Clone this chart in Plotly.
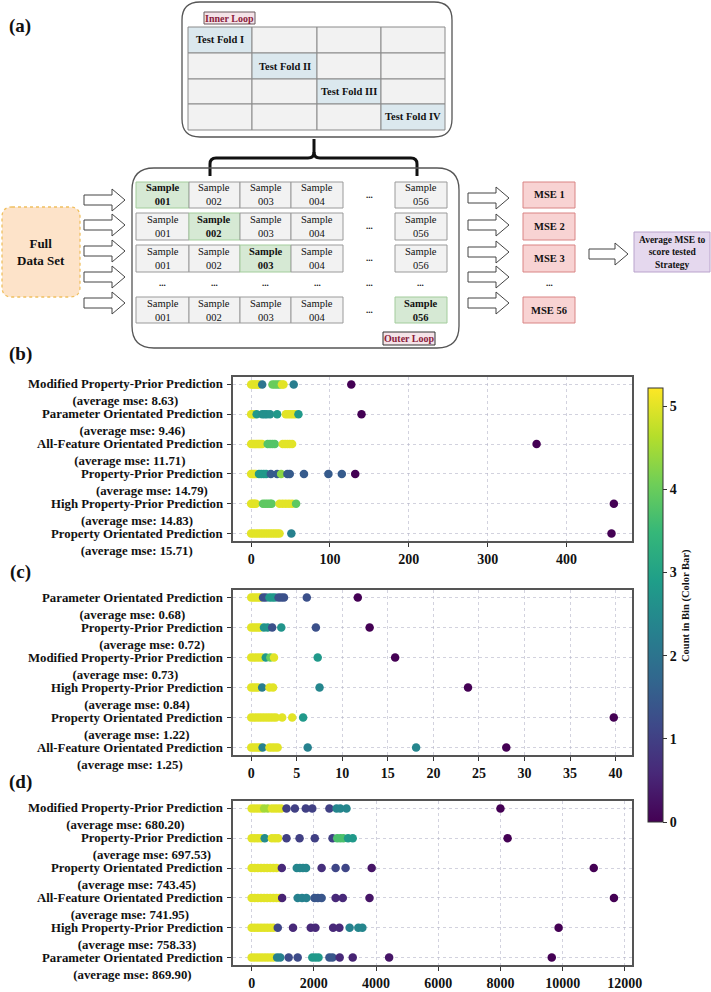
import plotly.graph_objects as go

W, H = 711, 992
FONT = "Liberation Serif, Times New Roman, serif"

# ---------------- data ----------------
names_b = ["Modified Property-Prior Prediction", "Parameter Orientated Prediction",
           "All-Feature Orientated Prediction", "Property-Prior Prediction",
           "High Property-Prior Prediction", "Property Orientated Prediction"]
mse_b = ["8.63", "9.46", "11.71", "14.79", "14.83", "15.71"]
b_x = [
    [0, 2, 4, 6, 8, 10, 14, 27, 30, 33, 36, 39, 41, 54, 127],
    [0, 2, 4, 7, 14, 17, 20, 24, 33, 44, 47, 50, 53, 56, 60, 140],
    [0, 2, 4, 6, 8, 10, 12, 14, 21, 24, 27, 30, 40, 43, 46, 49, 52, 362],
    [0, 2, 4, 6, 10, 13, 16, 19, 25, 33, 38, 46, 49, 67, 98, 115, 132],
    [0, 2, 4, 6, 15, 18, 21, 24, 26, 36, 40, 44, 48, 52, 57, 460],
    [0, 3, 6, 9, 12, 15, 18, 21, 24, 27, 30, 33, 36, 51, 457],
]
b_c = [
    [5, 5, 5, 5, 5, 5, 2, 4, 4, 4, 4, 5, 5, 2.2, 0],
    [5, 5, 5, 2.8, 2.6, 2.6, 2.6, 2.6, 2.8, 5, 5, 5, 5, 5, 2.8, 0],
    [5, 5, 5, 5, 5, 5, 5, 5, 3.8, 3.8, 3.8, 3.8, 5, 5, 5, 5, 5, 0],
    [5, 5, 5, 5, 2.8, 2.8, 2.8, 2.8, 1.5, 1.5, 4.3, 1.5, 1.5, 1.5, 1.5, 1.5, 0],
    [5, 5, 5, 5, 3.9, 3.9, 3.9, 3.9, 3.9, 5, 5, 5, 5, 5, 3.9, 0],
    [5, 5, 5, 5, 5, 5, 5, 5, 5, 5, 5, 5, 5, 2.3, 0],
]

names_c = ["Parameter Orientated Prediction", "Property-Prior Prediction",
           "Modified Property-Prior Prediction", "High Property-Prior Prediction",
           "Property Orientated Prediction", "All-Feature Orientated Prediction"]
mse_c = ["0.68", "0.72", "0.73", "0.84", "1.22", "1.25"]
c_x = [
    [0, 0.25, 0.5, 0.75, 1.0, 1.3, 1.6, 2.0, 2.3, 2.6, 3.0, 3.3, 3.6, 6.1, 11.7],
    [0, 0.25, 0.5, 0.75, 1.0, 1.4, 1.8, 2.3, 3.3, 7.1, 13.0],
    [0, 0.3, 0.6, 0.9, 1.2, 1.6, 2.1, 2.5, 7.3, 15.8],
    [0, 0.25, 0.5, 0.75, 1.2, 2.0, 2.4, 7.5, 23.8],
    [0, 0.3, 0.6, 0.9, 1.2, 1.5, 1.8, 2.1, 2.4, 2.7, 3.4, 4.5, 5.7, 39.8],
    [0, 0.25, 0.5, 0.75, 1.0, 1.25, 2.0, 2.3, 2.6, 2.9, 6.2, 18.1, 28.0],
]
c_c = [
    [5, 5, 5, 5, 5, 1.3, 1.3, 2.8, 2.8, 2.8, 1.3, 1.3, 1.3, 1.3, 0],
    [5, 5, 5, 5, 5, 2.7, 2.7, 1.3, 2.7, 1.3, 0],
    [5, 5, 5, 5, 5, 2.8, 4, 5, 2.8, 0],
    [5, 5, 5, 5, 2.2, 5, 5, 2.4, 0],
    [5, 5, 5, 5, 5, 5, 5, 5, 5, 5, 5, 5, 2.8, 0],
    [5, 5, 5, 5, 5, 2.3, 5, 5, 5, 5, 2.3, 2.4, 0],
]

names_d = ["Modified Property-Prior Prediction", "Property-Prior Prediction",
           "Property Orientated Prediction", "All-Feature Orientated Prediction",
           "High Property-Prior Prediction", "Parameter Orientated Prediction"]
mse_d = ["680.20", "697.53", "743.45", "741.95", "758.33", "869.90"]
d_x = [
    [0, 100, 200, 300, 400, 520, 650, 750, 850, 950, 1120, 1390, 1740, 1950, 2500, 2730, 2850, 3050, 8000],
    [0, 100, 200, 300, 420, 650, 750, 850, 1120, 1540, 2030, 2600, 2750, 2850, 2950, 3100, 3250, 8230],
    [0, 100, 200, 300, 400, 500, 600, 700, 800, 970, 1450, 1550, 1650, 1750, 2250, 2700, 3020, 3860, 11000],
    [0, 100, 200, 300, 400, 500, 600, 700, 800, 900, 980, 1480, 1620, 1760, 2020, 2130, 2250, 2700, 2930, 3790, 11650],
    [0, 100, 200, 300, 400, 500, 600, 700, 840, 1330, 1900, 2050, 2620, 2820, 3150, 3430, 3560, 9870],
    [0, 100, 200, 300, 400, 500, 600, 700, 820, 920, 1190, 1480, 1950, 2050, 2150, 2500, 2600, 2830, 3250, 4420, 9650],
]
d_c = [
    [5, 5, 5, 5, 4.5, 4.5, 5, 5, 5, 5, 1, 1, 1, 1, 1, 2.4, 2.4, 2.4, 0],
    [5, 5, 5, 5, 2.5, 5, 5, 5, 1, 1, 1, 1, 3.7, 3.7, 3.7, 2.8, 2.8, 0],
    [5, 5, 5, 5, 5, 5, 5, 5, 5, 0.6, 2.4, 2.4, 2.4, 2.4, 0.7, 1.1, 1.1, 0.3, 0],
    [5, 5, 5, 5, 5, 5, 5, 5, 5, 5, 0.5, 2.3, 2.3, 2.3, 1.4, 1.4, 1.4, 0.6, 0.6, 0.3, 0],
    [5, 5, 5, 5, 5, 5, 5, 5, 1.1, 0.6, 0.6, 0.6, 0.6, 0.6, 2.3, 2.4, 2.4, 0],
    [5, 5, 5, 5, 5, 5, 5, 5, 2.3, 2.3, 1.2, 1.2, 2.8, 2.8, 2.8, 1.4, 1.4, 0.6, 0.5, 0.3, 0],
]

x_ranges = [[-23, 483], [-2.0, 41.8], [-600, 12230]]
x_dticks = [100, 5, 2000]
cbar_ticks = [0, 1, 2, 3, 4, 5]
cbar_title = "Count in Bin (Color Bar)"

# diagram text
fold_labels = ["Test Fold I", "Test Fold II", "Test Fold III", "Test Fold IV"]
sample_ids = ["001", "002", "003", "004", "056"]
mse_labels = ["MSE 1", "MSE 2", "MSE 3", "MSE 56"]

# ---------------- helpers (pixel -> paper) ----------------
def X(px):
    return px / W

def Y(py):
    return 1 - py / H

shapes = []
annos = []

def rrect(x0, y0, x1, y1, r, fill, line, lw=1.2, dash="solid"):
    p = (f"M {X(x0+r)},{Y(y0)} L {X(x1-r)},{Y(y0)} Q {X(x1)},{Y(y0)} {X(x1)},{Y(y0+r)} "
         f"L {X(x1)},{Y(y1-r)} Q {X(x1)},{Y(y1)} {X(x1-r)},{Y(y1)} "
         f"L {X(x0+r)},{Y(y1)} Q {X(x0)},{Y(y1)} {X(x0)},{Y(y1-r)} "
         f"L {X(x0)},{Y(y0+r)} Q {X(x0)},{Y(y0)} {X(x0+r)},{Y(y0)} Z")
    shapes.append(dict(type="path", path=p, xref="paper", yref="paper",
                       fillcolor=fill, line=dict(color=line, width=lw, dash=dash)))

def rect(x0, y0, x1, y1, fill, line, lw=1):
    shapes.append(dict(type="rect", xref="paper", yref="paper", x0=X(x0), x1=X(x1),
                       y0=Y(y1), y1=Y(y0), fillcolor=fill, line=dict(color=line, width=lw)))

def text(x, y, t, size=10.5, bold=True, color="#111111", xanchor="center", angle=0):
    annos.append(dict(x=X(x), y=Y(y), xref="paper", yref="paper", text=t, showarrow=False,
                      xanchor=xanchor, yanchor="middle", align="center", textangle=angle,
                      font=dict(family=FONT, size=size, color=color,
                                weight="bold" if bold else "normal")))

def arrow(x0, x1, yc, h1=5, h2=11, head=13):
    xh = x1 - head
    pts = [(x0, yc-h1), (xh, yc-h1), (xh, yc-h2), (x1, yc), (xh, yc+h2), (xh, yc+h1), (x0, yc+h1)]
    p = "M " + " L ".join(f"{X(a)},{Y(b)}" for a, b in pts) + " Z"
    shapes.append(dict(type="path", path=p, xref="paper", yref="paper",
                       fillcolor="white", line=dict(color="#444444", width=1)))

# ---------------- panel (a) diagram ----------------
# inner loop
rrect(182, 2, 452, 137, 18, "white", "#555555", 1.3)
col_edges = [188, 252, 317, 381, 445]
row_edges = [27, 53, 79, 104, 130]
for r in range(4):
    for c in range(4):
        diag = (r == c)
        rect(col_edges[c], row_edges[r], col_edges[c+1], row_edges[r+1],
             "#dbe8ee" if diag else "#f2f2f2", "#8a8a8a", 1)
for i, lab in enumerate(fold_labels):
    text((col_edges[i]+col_edges[i+1])/2, (row_edges[i]+row_edges[i+1])/2, lab, size=10.5)
rect(204, 12, 255, 24, "#f5e3e8", "#6b5a5e", 1)
text(229.5, 18, "Inner Loop", size=10, color="#8b1c3c")

# brace
shapes.append(dict(type="path", xref="paper", yref="paper", line=dict(color="#111111", width=3),
                   path=f"M {X(210)},{Y(176)} L {X(210)},{Y(164)} Q {X(210)},{Y(158)} {X(216)},{Y(158)} "
                        f"L {X(308)},{Y(158)} Q {X(314)},{Y(158)} {X(314)},{Y(152)} L {X(314)},{Y(139)}"))
shapes.append(dict(type="path", xref="paper", yref="paper", line=dict(color="#111111", width=3),
                   path=f"M {X(314)},{Y(152)} Q {X(314)},{Y(158)} {X(320)},{Y(158)} "
                        f"L {X(411)},{Y(158)} Q {X(417)},{Y(158)} {X(417)},{Y(164)} L {X(417)},{Y(176)}"))

# outer loop box
rrect(132, 168, 459, 348, 22, "rgba(255,255,255,0)", "#555555", 1.3)

cell_x = [(136, 189), (189, 240), (240, 291), (291, 343), (395, 447)]
rows_y = [(182, 208), (213, 240), (245, 272), None, (297, 323)]
highlight = [0, 1, 2, None, 4]
dots_y = 283
for ri, ry in enumerate(rows_y):
    if ry is None:
        for (a, b) in cell_x[:4]:
            text((a+b)/2, dots_y, "...", size=9)
        text(369, dots_y, "...", size=9)
        text(421, dots_y, "...", size=9)
        continue
    for ci, (a, b) in enumerate(cell_x):
        hl = highlight[ri] == ci
        rect(a, ry[0], b, ry[1], "#d6e9d4" if hl else "#f2f2f2",
             "#a3cc9c" if hl else "#9a9a9a", 1)
        text((a+b)/2, (ry[0]+ry[1])/2, f"Sample<br>{sample_ids[ci]}", size=10.5, bold=hl)
    text(369, (ry[0]+ry[1])/2, "...", size=9)

rect(383, 332, 435, 345, "#f5e3e8", "#333333", 1)
text(409, 338.5, "Outer Loop", size=10, color="#8b1c3c")

# full data set
rrect(2, 207, 80, 297, 10, "#fde3c9", "#f0c060", 1.3, "dot")
text(41, 252, "Full<br>Data Set", size=13)

# arrows
for yc in [200, 225, 251, 277, 303]:
    arrow(84, 125, yc)
for yc in [198, 225, 252, 277, 303]:
    arrow(468, 509, yc)
arrow(589, 628, 254)

# MSE boxes
mse_y = [(182, 208), (213, 240), (245, 272), (297, 323)]
for lab, (a, b) in zip(mse_labels, mse_y):
    rect(523, a, 575, b, "#f8d3d3", "#d98484", 1)
    text(549, (a+b)/2, lab, size=10.5)
text(549, dots_y, "...", size=9)

rect(634, 232, 710, 272, "#e5d8ee", "#b9a3cc", 1)
text(672, 252, "Average MSE to<br>score tested<br>Strategy", size=9.5)

# panel letters
for lab, yy in [("(a)", 26), ("(b)", 354), ("(c)", 572), ("(d)", 782)]:
    text(20, yy, lab, size=19)

# colour bar title (vertical, beside the tick labels)
text(686, 606, cbar_title, size=10.5, angle=-90)

# ---------------- scatter panels ----------------
fig = go.Figure()
panels = [(names_b, mse_b, b_x, b_c), (names_c, mse_c, c_x, c_c), (names_d, mse_d, d_x, d_c)]
ydoms = [(377, 541), (590, 755), (801, 965)]
axis_ids = ["", "2", "3"]

for pi, (names, mses, xs, cs) in enumerate(panels):
    ax = axis_ids[pi]
    for name, rx, rc in zip(names, xs, cs):
        fig.add_trace(go.Scatter(
            x=rx, y=[name] * len(rx), mode="markers", showlegend=False,
            xaxis="x" + ax, yaxis="y" + ax,
            marker=dict(size=8.5, color=rc, coloraxis="coloraxis", line=dict(width=0)),
        ))
    for name, m in zip(names, mses):
        annos.append(dict(x=0, y=name, xref=f"x{ax} domain", yref="y" + ax,
                          text=f"{name}<br>(average mse: {m})", showarrow=False,
                          xanchor="right", yanchor="middle", align="center",
                          xshift=-8, yshift=-8.5,
                          font=dict(family=FONT, size=12.8, color="#111111", weight="bold")))

grid_col = "rgba(180,180,200,0.6)"
layout_axes = {}
for pi, ax in enumerate(axis_ids):
    y0, y1 = ydoms[pi]
    layout_axes["xaxis" + ax] = dict(
        domain=[X(233), X(632)], anchor="y" + ax, range=x_ranges[pi], dtick=x_dticks[pi], tick0=0,
        tickformat="d",
        showgrid=True, gridcolor=grid_col, griddash="dot", gridwidth=1, zeroline=False,
        showline=True, mirror=True, linecolor="#555555", linewidth=1.5,
        ticks="outside", ticklen=4, tickcolor="#333333",
        tickfont=dict(family=FONT, size=14, color="#111111", weight="bold"))
    layout_axes["yaxis" + ax] = dict(
        domain=[Y(y1), Y(y0)], anchor="x" + ax, type="category",
        categoryorder="array", categoryarray=panels[pi][0], range=[5.25, -0.25],
        showgrid=True, gridcolor=grid_col, griddash="dot", gridwidth=1, zeroline=False,
        showline=True, mirror=True, linecolor="#555555", linewidth=1.5,
        ticks="outside", ticklen=4, tickcolor="#333333", showticklabels=False)

fig.update_layout(
    width=W, height=H, autosize=False,
    margin=dict(l=0, r=0, t=0, b=0, pad=0, autoexpand=False),
    paper_bgcolor="white", plot_bgcolor="white",
    shapes=shapes, annotations=annos,
    coloraxis=dict(
        colorscale="Viridis", cmin=0, cmax=5.22,
        colorbar=dict(
            x=X(648), xanchor="left", y=Y(605), yanchor="middle",
            len=434 / H, lenmode="fraction", thickness=15, thicknessmode="pixels",
            xpad=0, ypad=0, outlinewidth=1, outlinecolor="#333333",
            tickvals=cbar_ticks, ticks="outside", ticklen=4, tickcolor="#333333",
            tickfont=dict(family=FONT, size=14, color="#111111", weight="bold"),
        ),
    ),
    **layout_axes,
)

fig.write_html(
    "out.html",
    config={"responsive": False, "displayModeBar": False},
    post_script=("document.documentElement.style.margin='0';document.documentElement.style.overflow='hidden';"
                 "document.body.style.margin='0';document.body.style.padding='0';"
                 "document.body.style.overflow='hidden';"),
)
